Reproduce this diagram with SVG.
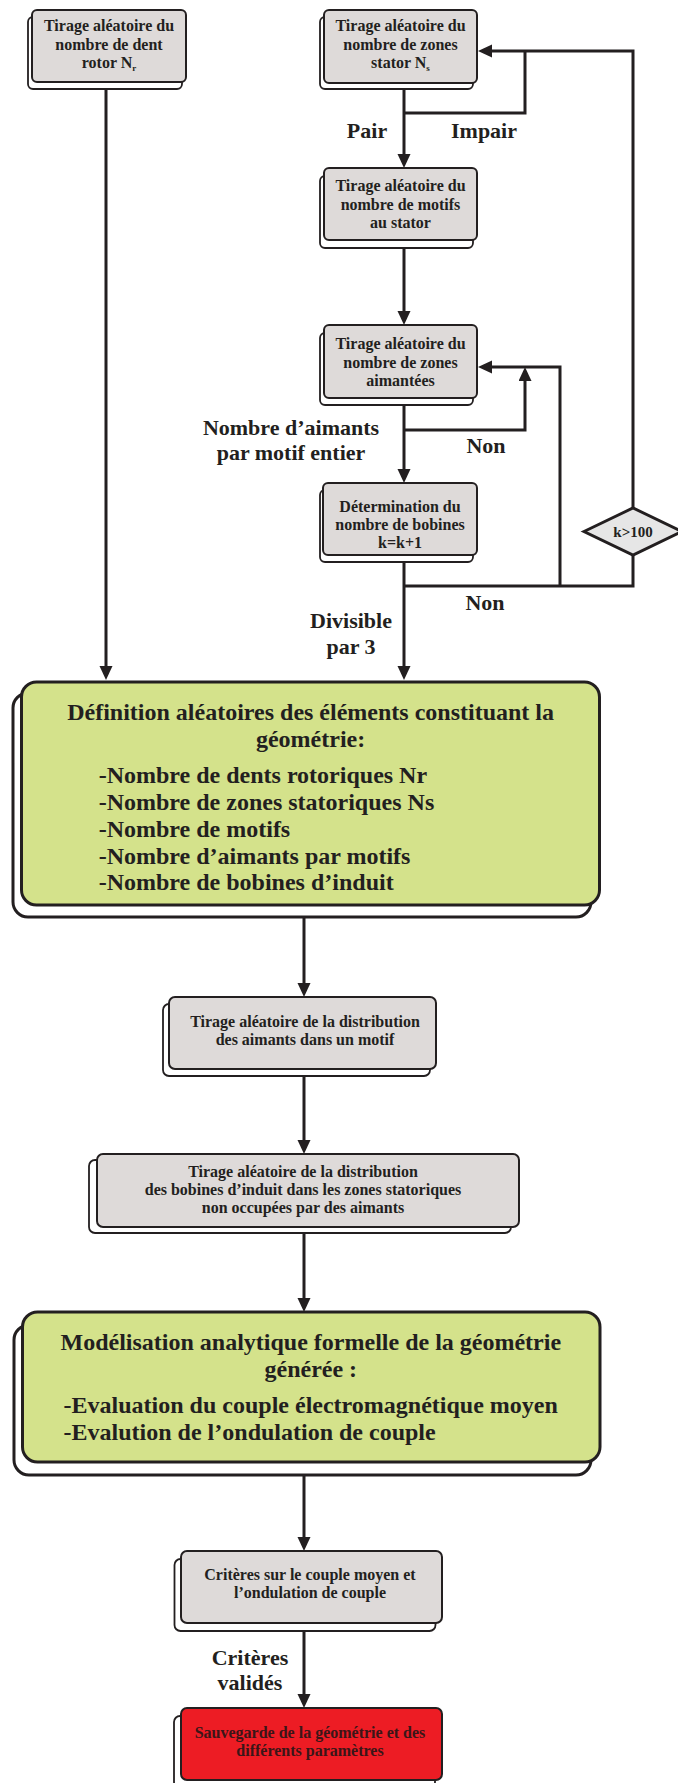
<svg xmlns="http://www.w3.org/2000/svg" width="678" height="1783" viewBox="0 0 678 1783">
<style>
.t{font-family:"Liberation Serif","Times New Roman",serif;font-weight:bold;fill:#231f20;text-anchor:middle}
.s{font-size:16px}
.l{font-size:22px}
.g{font-size:24px}
.gl{font-size:24px;text-anchor:start}
.sh{fill:#ffffff;stroke:#231f20;stroke-width:1.8}
.bx{fill:#dedad9;stroke:#231f20;stroke-width:2}
.gr{fill:#d4e28b;stroke:#231f20;stroke-width:3}
.grs{fill:#ffffff;stroke:#231f20;stroke-width:3}
.rd{fill:#ed1c24;stroke:#231f20;stroke-width:2}
.c{fill:none;stroke:#231f20;stroke-width:3}
.ca{fill:none;stroke:#231f20;stroke-width:3;marker-end:url(#ah)}
</style>
<defs>
<marker id="ah" markerUnits="userSpaceOnUse" markerWidth="15" markerHeight="14" refX="0" refY="6.5" orient="auto">
<path d="M0,0 L14,6.5 L0,13 z" fill="#231f20"/>
</marker>
</defs>

<g id="connectors">
<path class="ca" d="M106 89 V666"/>
<path class="ca" d="M404 89 V154"/>
<path class="c" d="M404 113 H525 V51"/>
<path class="ca" d="M633 508 V51 H492"/>
<path class="ca" d="M404 248 V311"/>
<path class="ca" d="M404 430 H525 V381"/>
<path class="ca" d="M404 405 V469"/>
<path class="ca" d="M404 562 V666"/>
<path class="c" d="M404 586 H633 V555"/>
<path class="ca" d="M560 586 V367 H492"/>
<path class="ca" d="M304 917 V983"/>
<path class="ca" d="M304 1076 V1140"/>
<path class="ca" d="M304 1233 V1298"/>
<path class="ca" d="M304 1475 V1537"/>
<path class="ca" d="M304 1631 V1694"/>
</g>

<g id="labels">
<text class="t l" x="367" y="138">Pair</text>
<text class="t l" x="484" y="138">Impair</text>
<text class="t l" x="291" y="435">Nombre d’aimants</text>
<text class="t l" x="291" y="460">par motif entier</text>
<text class="t l" x="486" y="453">Non</text>
<text class="t l" x="485" y="610">Non</text>
<text class="t l" x="351" y="628">Divisible</text>
<text class="t l" x="351" y="654">par 3</text>
<text class="t l" x="250" y="1665">Critères</text>
<text class="t l" x="250" y="1690">validés</text>
</g>

<g id="rotor">
<rect class="sh" x="28" y="17" width="154" height="72" rx="5"/>
<rect class="bx" x="32" y="10" width="154" height="72" rx="5"/>
<text class="t s" x="109" y="31">Tirage aléatoire du</text>
<text class="t s" x="109" y="50">nombre de dent</text>
<text class="t s" x="109" y="68">rotor N<tspan font-size="9" dy="3">r</tspan></text>
</g>

<g id="stator">
<rect class="sh" x="320" y="17" width="153" height="72" rx="5"/>
<rect class="bx" x="324" y="10" width="153" height="73" rx="5"/>
<text class="t s" x="400.5" y="31">Tirage aléatoire du</text>
<text class="t s" x="400.5" y="50">nombre de zones</text>
<text class="t s" x="400.5" y="68">stator N<tspan font-size="9" dy="3">s</tspan></text>
</g>

<g id="motifs">
<rect class="sh" x="320" y="176" width="153" height="72" rx="5"/>
<rect class="bx" x="324" y="168" width="153" height="72" rx="5"/>
<text class="t s" x="400.5" y="191">Tirage aléatoire du</text>
<text class="t s" x="400.5" y="209.5">nombre de motifs</text>
<text class="t s" x="400.5" y="228">au stator</text>
</g>

<g id="aimantees">
<rect class="sh" x="320" y="333" width="153" height="72" rx="5"/>
<rect class="bx" x="324" y="325" width="153" height="73" rx="5"/>
<text class="t s" x="400.5" y="349">Tirage aléatoire du</text>
<text class="t s" x="400.5" y="367.5">nombre de zones</text>
<text class="t s" x="400.5" y="386">aimantées</text>
</g>

<g id="bobines">
<rect class="sh" x="320" y="490" width="153" height="72" rx="5"/>
<rect class="bx" x="323" y="483" width="154" height="72" rx="5"/>
<text class="t s" x="400" y="512">Détermination du</text>
<text class="t s" x="400" y="530">nombre de bobines</text>
<text class="t s" x="400" y="548">k=k+1</text>
</g>

<g id="test-k">
<polygon points="584,531.5 633,508 682,531.5 633,555" fill="#e6e6e6" stroke="#231f20" stroke-width="3" stroke-linejoin="miter"/>
<text class="t" x="633" y="537" font-size="15">k&gt;100</text>
</g>

<g id="definition">
<rect class="grs" x="13" y="693" width="578" height="224" rx="15"/>
<rect class="gr" x="21.5" y="682" width="578" height="223" rx="15"/>
<text class="t g" x="310.6" y="720">Définition aléatoires des éléments constituant la</text>
<text class="t g" x="310.6" y="747">géométrie:</text>
<text class="t gl" x="98.7" y="783">-Nombre de dents rotoriques Nr</text>
<text class="t gl" x="98.7" y="810">-Nombre de zones statoriques Ns</text>
<text class="t gl" x="98.7" y="837">-Nombre de motifs</text>
<text class="t gl" x="98.7" y="864">-Nombre d’aimants par motifs</text>
<text class="t gl" x="98.7" y="890">-Nombre de bobines d’induit</text>
</g>

<g id="distrib-aimants">
<rect class="sh" x="163" y="1004" width="267" height="72" rx="6"/>
<rect class="bx" x="169" y="997" width="267" height="72" rx="6"/>
<text class="t s" x="305" y="1027">Tirage aléatoire de la distribution</text>
<text class="t s" x="305" y="1044.5">des aimants dans un motif</text>
</g>

<g id="distrib-bobines">
<rect class="sh" x="89" y="1160" width="422" height="73" rx="6"/>
<rect class="bx" x="97" y="1154" width="422" height="73" rx="6"/>
<text class="t s" x="303" y="1177">Tirage aléatoire de la distribution</text>
<text class="t s" x="303" y="1195">des bobines d’induit dans les zones statoriques</text>
<text class="t s" x="303" y="1213">non occupées par des aimants</text>
</g>

<g id="modelisation">
<rect class="grs" x="14" y="1325" width="577" height="150" rx="15"/>
<rect class="gr" x="22.5" y="1312" width="577.5" height="150" rx="15"/>
<text class="t g" x="310.8" y="1350">Modélisation analytique formelle de la géométrie</text>
<text class="t g" x="310.8" y="1377">générée :</text>
<text class="t gl" x="63.6" y="1413">-Evaluation du couple électromagnétique moyen</text>
<text class="t gl" x="63.6" y="1440">-Evalution de l’ondulation de couple</text>
</g>

<g id="criteres">
<rect class="sh" x="174.5" y="1559" width="261" height="72" rx="6"/>
<rect class="bx" x="181" y="1551" width="261" height="72" rx="6"/>
<text class="t s" x="310" y="1580">Critères sur le couple moyen et</text>
<text class="t s" x="310" y="1598">l’ondulation de couple</text>
</g>

<g id="sauvegarde">
<rect class="sh" x="174" y="1716" width="261" height="72" rx="6"/>
<rect class="rd" x="181" y="1708" width="261" height="72" rx="6"/>
<text class="t s" x="310" y="1738" style="fill:#3a1618">Sauvegarde de la géométrie et des</text>
<text class="t s" x="310" y="1756" style="fill:#3a1618">différents paramètres</text>
</g>
</svg>
